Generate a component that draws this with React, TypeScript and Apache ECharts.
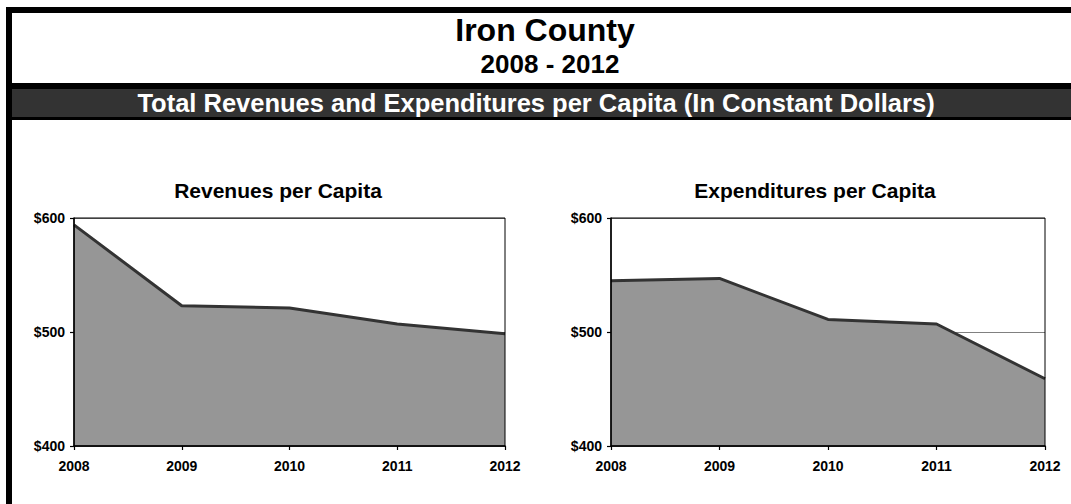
import React, { useEffect, useRef } from "react";
import * as echarts from "echarts";

const years = ["2008", "2009", "2010", "2011", "2012"];
const revenues = [594, 523, 521, 507, 498.5];
const expenditures = [545, 547, 511, 507, 459];
const yMin = 400;
const yMax = 600;
const yStep = 100;

const mainTitle = "Iron County";
const subTitle = "2008 - 2012";
const bandTitle = "Total Revenues and Expenditures per Capita (In Constant Dollars)";
const chartTitles = ["Revenues per Capita", "Expenditures per Capita"];

const FONT = '"Liberation Sans", Arial, Helvetica, sans-serif';

export default function App() {
  const ref = useRef<HTMLDivElement>(null);
  useEffect(() => {
    if (!ref.current) return;
    const chart = echarts.init(ref.current, undefined, { renderer: "svg" });
    const grids = [
      { left: 74, top: 218, width: 431, height: 228 },
      { left: 611, top: 218, width: 434, height: 228 },
    ];
    const seriesData = [revenues, expenditures];
    const xAxis: any[] = [];
    const yAxis: any[] = [];
    const series: any[] = [];
    grids.forEach((g, i) => {
      xAxis.push({
        type: "category",
        gridIndex: i,
        data: years,
        boundaryGap: false,
        z: 6,
        axisLine: { show: true, lineStyle: { color: "#000", width: 1.5 } },
        axisTick: { show: true, length: 4, lineStyle: { color: "#000", width: 1.2 } },
        axisLabel: {
          color: "#000",
          fontWeight: "bold",
          fontSize: 14,
          fontFamily: FONT,
          margin: 13,
        },
        splitLine: { show: false },
      });
      // split-line axis (below series)
      yAxis.push({
        type: "value",
        gridIndex: i,
        position: "left",
        min: yMin,
        max: yMax,
        interval: yStep,
        z: 0,
        axisLine: { show: false },
        axisTick: { show: false },
        axisLabel: { show: false },
        splitLine: { show: true, lineStyle: { color: "#808080", width: 1 } },
      });
      // visible axis (above series)
      yAxis.push({
        type: "value",
        gridIndex: i,
        position: "left",
        offset: 0,
        min: yMin,
        max: yMax,
        interval: yStep,
        z: 6,
        axisLine: { show: true, lineStyle: { color: "#000", width: 1.5 } },
        axisTick: { show: true, length: 4, lineStyle: { color: "#000", width: 1.2 } },
        axisLabel: {
          color: "#000",
          fontWeight: "bold",
          fontSize: 14,
          fontFamily: FONT,
          margin: 9,
          formatter: (v: number) => "$" + v,
        },
        splitLine: { show: false },
      });
      series.push({
        type: "line",
        xAxisIndex: i,
        yAxisIndex: i * 2,
        data: seriesData[i],
        symbol: "none",
        z: 2,
        lineStyle: { color: "#333333", width: 3 },
        areaStyle: { color: "#969696", opacity: 1, origin: "start" },
      });
    });

    const text = (t: string, x: number, y: number, size: number, fill = "#000") => ({
      type: "text",
      x,
      y,
      z: 10,
      style: {
        text: t,
        fill,
        fontSize: size,
        fontWeight: "bold",
        fontFamily: FONT,
        align: "center",
        verticalAlign: "middle",
      },
    });

    chart.setOption({
      animation: false,
      backgroundColor: "#fff",
      grid: grids.map((g) => ({
        ...g,
        show: true,
        z: 4,
        borderColor: "#000",
        borderWidth: 1,
        backgroundColor: "transparent",
      })),
      xAxis,
      yAxis,
      series,
      graphic: [
        { type: "rect", shape: { x: 6, y: 7, width: 6, height: 497 }, style: { fill: "#000" }, z: 9 },
        { type: "rect", shape: { x: 6, y: 7, width: 1065, height: 6 }, style: { fill: "#000" }, z: 9 },
        { type: "rect", shape: { x: 12, y: 83, width: 1059, height: 37 }, style: { fill: "#000" }, z: 9 },
        { type: "rect", shape: { x: 12, y: 89, width: 1059, height: 28 }, style: { fill: "#333333" }, z: 9 },
        text(mainTitle, 545, 30, 32),
        text(subTitle, 550, 64, 26),
        text(bandTitle, 536, 103, 25.5, "#fff"),
        text(chartTitles[0], 278, 190, 21),
        text(chartTitles[1], 815, 190, 21),
      ],
    });
    return () => chart.dispose();
  }, []);
  return (
    <div
      ref={ref}
      style={{ position: "fixed", left: 0, top: 0, width: 1071, height: 504, background: "#fff" }}
    />
  );
}
